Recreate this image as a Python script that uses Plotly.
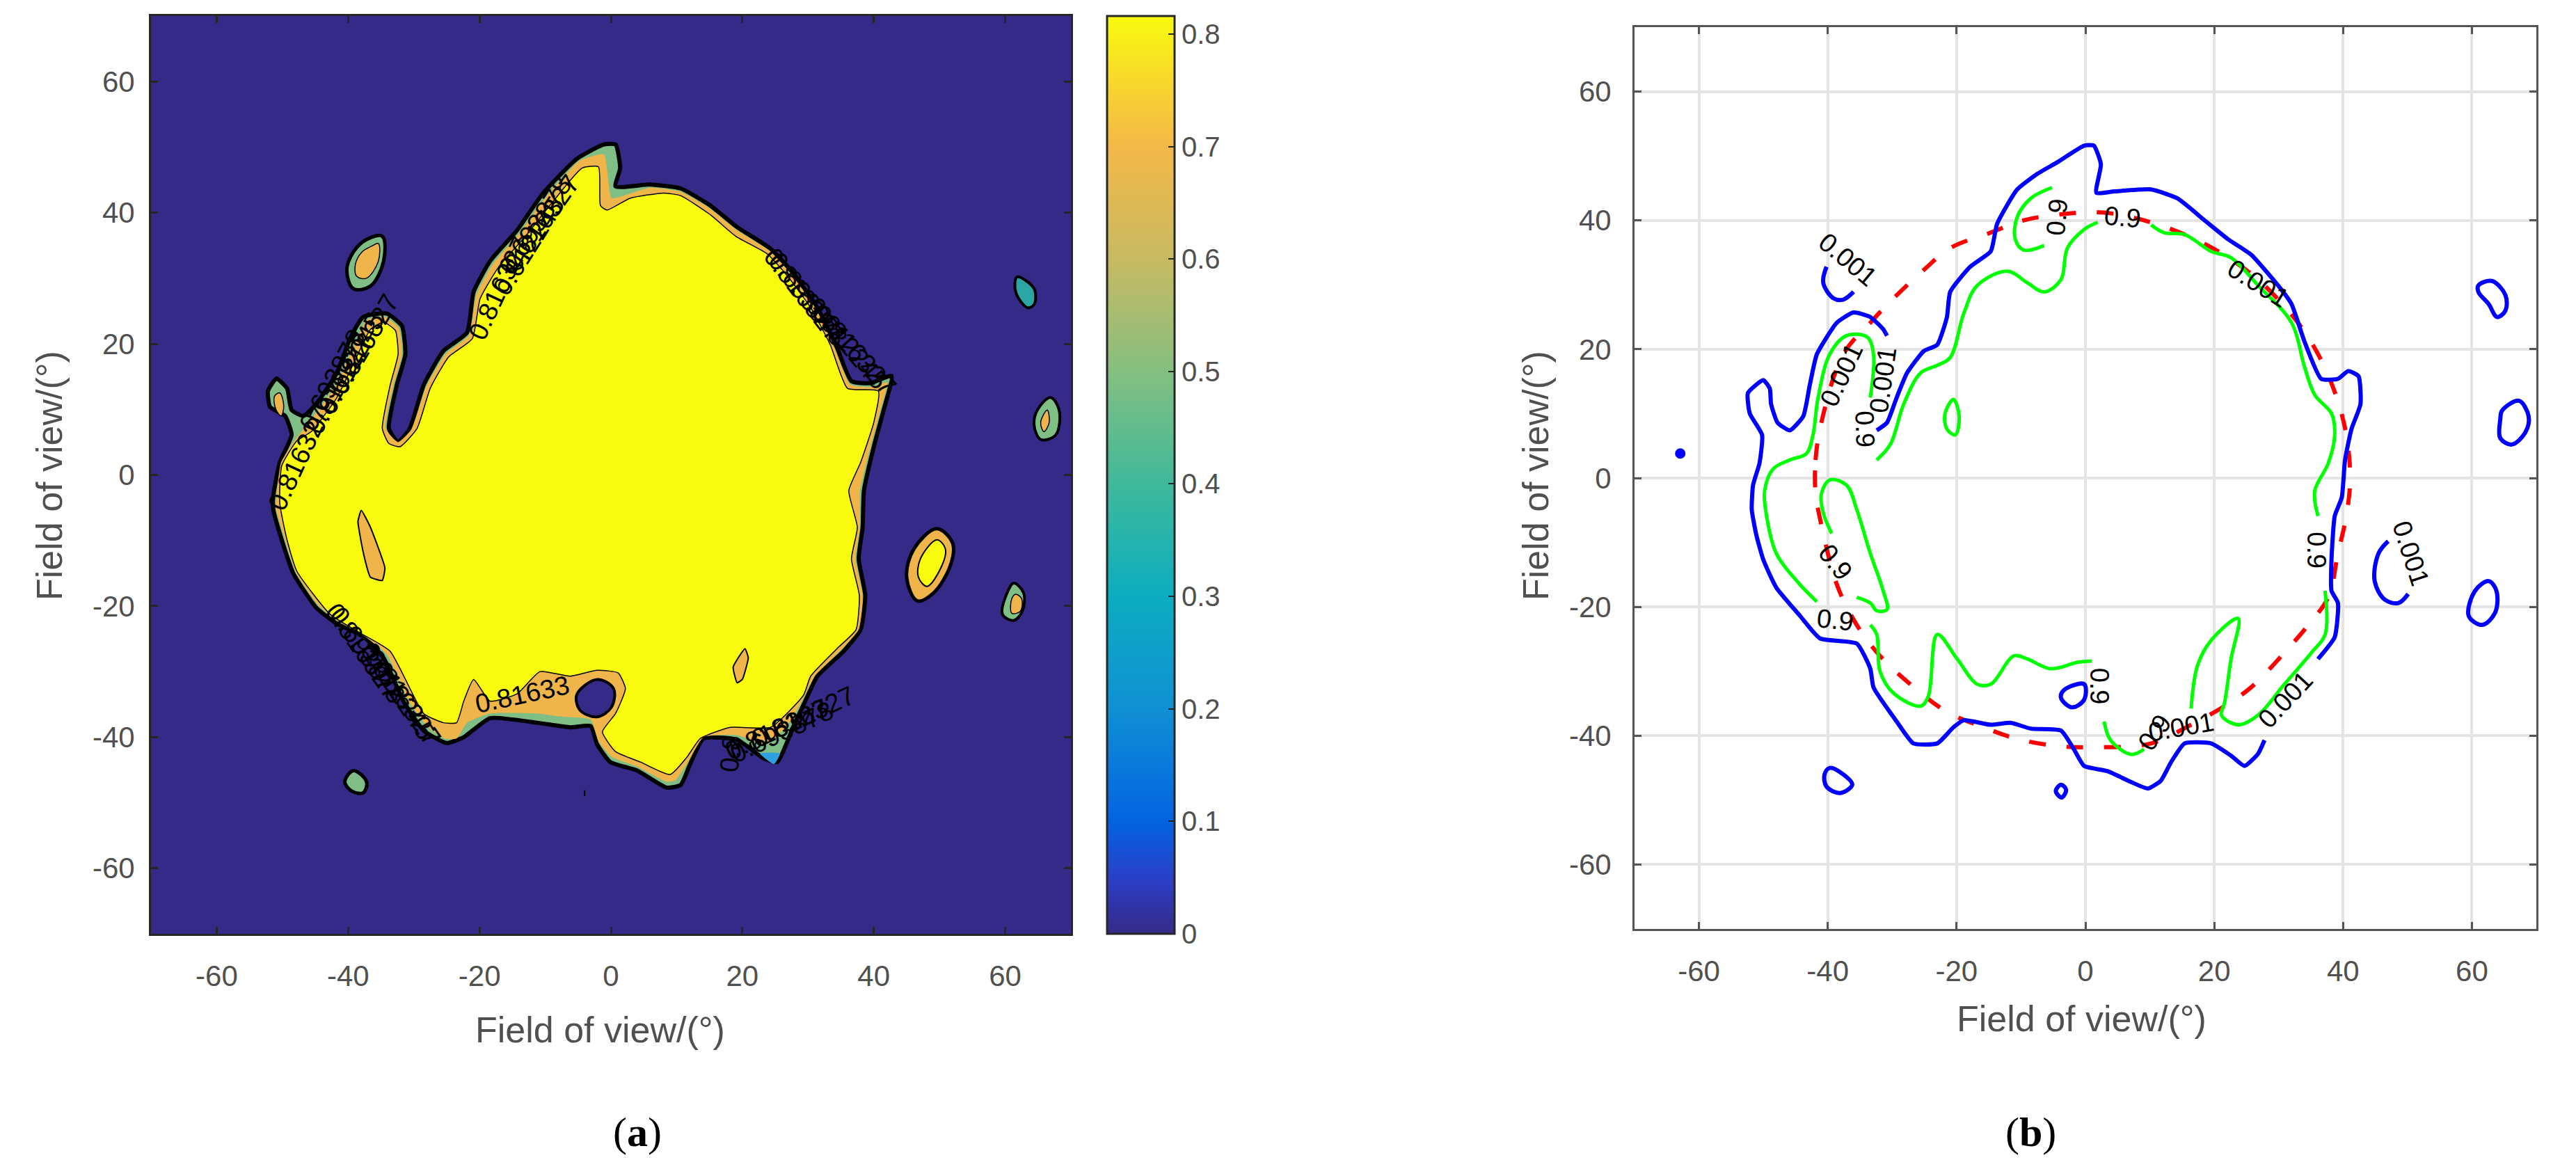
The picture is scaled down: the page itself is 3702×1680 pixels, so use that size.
import plotly.graph_objects as go

W, H = 3702, 1680
FONT = "Liberation Sans"
TICKS = [-60, -40, -20, 0, 20, 40, 60]
TICK_TEXT = ["-60", "-40", "-20", "0", "20", "40", "60"]
CB_TICKS = [0, 0.1, 0.2, 0.3, 0.4, 0.5, 0.6, 0.7, 0.8]
Z_MAX = 0.816

PURPLE, GREEN_F, ORANGE, YELLOW, TEAL = "#352a87", "#7fbf86", "#efb44a", "#f9fb0e", "#2ba6a4"

bg_x = [-70, 70]
bg_y = [-70, 70]
bg_z = [[0, 0], [0, 0]]

outer_x = [-51.4,-50.4,-48.6,-49.6,-51.9,-52.2,-50.9,-49.3,-48.6,-46.8,-44.8,-41.7,-39.7,-37.7,-34.1,-31.8,-31.3,-32.6,-33.8,-32.4,-30.6,-28.5,-25.5,-21.9,-20.9,-18.4,-14.3,-10.3,-5.2,-1.1,0.7,1.4,0.7,6.0,10.6,15.1,19.2,24.3,27.8,31.4,34.4,36.6,39.5,42.7,41.5,40.0,38.5,38.3,37.7,38.7,38.0,35.4,31.4,29.8,27.8,25.3,23.2,19.2,14.1,12.1,10.6,8.5,4.0,-0.1,-2.1,-3.1,-6.2,-11.3,-18.4,-22.4,-25.0,-28.5,-31.6,-34.6,-37.7,-41.7,-44.8,-48.3,-50.1,-51.4,-51.4]
outer_y = [-3.3,1.9,6.1,9.0,10.4,12.8,14.7,13.2,9.9,9.0,10.9,15.6,20.8,24.1,24.6,22.7,18.4,13.7,7.1,5.0,7.1,13.7,18.9,21.7,27.9,32.6,37.3,43.0,48.2,50.4,50.4,46.8,44.0,44.3,43.7,41.1,37.8,34.5,30.7,25.5,19.4,14.3,14.0,15.1,9.9,4.3,-2.4,-8.0,-12.8,-18.4,-23.6,-26.9,-30.7,-34.0,-38.3,-43.8,-43.2,-40.4,-40.2,-44.0,-47.3,-47.7,-45.1,-43.8,-41.1,-38.3,-38.5,-37.8,-37.1,-40.0,-40.9,-39.0,-34.5,-27.9,-24.6,-22.7,-20.3,-15.1,-9.9,-5.2,-3.3]

orange_x = [-51.0,-50.2,-48.3,-46.3,-42.2,-39.2,-37.2,-34.4,-32.3,-31.8,-33.1,-34.3,-32.4,-30.4,-28.1,-25.2,-21.6,-20.5,-18.0,-13.9,-9.8,-4.8,-1.1,-0.3,0.1,6.0,10.6,15.1,19.2,24.1,27.5,31.2,34.0,36.4,39.5,42.0,41.0,39.5,37.9,37.9,37.2,38.3,37.7,35.0,31.0,29.5,27.1,23.8,19.2,14.1,11.9,9.8,8.5,4.0,0.1,-1.9,-3.1,-7.2,-11.3,-18.4,-21.9,-23.5,-25.3,-28.0,-31.1,-34.1,-37.5,-41.7,-44.6,-48.0,-49.6,-51.0]
orange_y = [-4.3,1.9,5.0,7.6,13.2,19.4,23.6,24.1,22.4,18.4,13.7,7.1,5.0,6.9,13.5,18.4,21.3,27.4,32.1,36.9,42.5,47.9,48.9,44.0,42.2,43.8,43.2,40.6,37.3,34.2,30.5,25.3,19.4,13.8,13.4,14.1,9.9,4.3,-2.4,-8.0,-12.8,-18.4,-23.6,-26.7,-30.7,-33.7,-37.8,-41.1,-39.7,-40.0,-43.5,-46.6,-46.8,-44.5,-43.0,-40.6,-37.3,-36.9,-36.4,-36.4,-37.8,-40.2,-40.2,-38.3,-34.0,-27.4,-24.6,-22.2,-19.8,-14.8,-9.9,-5.2]

yellow_x = [-50.4,-50.1,-47.8,-45.6,-41.7,-38.7,-36.6,-34.6,-32.8,-32.4,-33.6,-34.8,-33.8,-32.1,-29.5,-27.5,-24.7,-21.1,-19.9,-17.1,-13.0,-8.9,-4.4,-1.9,-1.6,-0.6,2.9,8.0,10.6,15.1,19.0,23.8,26.8,30.4,33.4,36.0,40.7,40.0,38.0,36.2,37.5,36.6,37.8,37.3,34.4,30.4,29.3,24.3,18.2,13.6,11.6,9.0,4.5,0.7,-1.3,0.7,2.2,1.1,-2.1,-6.2,-10.8,-14.3,-18.4,-20.9,-22.4,-23.5,-25.5,-28.5,-33.6,-38.2,-42.7,-47.8,-49.3,-50.4]
yellow_y = [-4.3,1.4,5.2,6.6,11.8,18.0,22.2,23.3,22.0,18.4,13.7,7.1,4.8,4.3,7.1,13.2,18.0,20.8,26.9,31.7,36.4,41.6,46.8,47.0,41.1,40.4,42.2,43.0,42.6,39.7,36.4,33.7,30.4,25.5,19.8,13.2,12.8,8.0,1.9,-2.4,-8.0,-12.8,-18.4,-23.6,-26.5,-30.7,-33.6,-38.5,-38.5,-40.2,-43.0,-45.7,-43.8,-42.2,-39.2,-36.4,-32.6,-30.2,-29.8,-30.7,-30.0,-33.4,-34.5,-31.2,-34.5,-37.8,-37.8,-36.4,-26.9,-24.1,-21.3,-14.7,-9.9,-4.3]

pond_x = [-5.2,-2.1,0.4,0.1,-2.1,-4.7,-5.2]
pond_y = [-33.5,-31.2,-32.6,-35.4,-36.9,-35.9,-33.5]
tip_x = [22.7,25.7,24.8,22.7]
tip_y = [-42.5,-42.5,-44.1,-42.5]

lens1_x = [-38.0,-36.6,-34.4,-34.8,-36.6,-37.7,-38.5,-38.0]
lens1_y = [-5.4,-8.0,-14.2,-16.1,-15.6,-11.8,-7.1,-5.4]
lens2_x = [20.4,20.9,20.0,19.2,18.6,20.4]
lens2_y = [-26.5,-27.9,-31.2,-31.7,-29.3,-26.5]
finger_x = [-51.2,-50.4,-49.8,-50.2,-51.0,-51.2]
finger_y = [12.0,12.5,10.5,9.0,10.0,12.0]
isl1_x = [-37.2,-34.8,-34.6,-36.6,-39.2,-40.2,-39.2,-37.2]
isl1_y = [35.9,36.4,32.6,28.8,28.4,31.2,34.0,35.9]
isl1o_x = [-36.4,-35.4,-35.4,-37.2,-38.7,-38.9,-37.9,-36.4]
isl1o_y = [34.9,35.3,32.6,30.0,30.3,32.1,34.0,34.9]
isl2_x = [61.8,64.4,64.4,63.4,61.6,61.8]
isl2_y = [30.2,28.4,26.0,25.5,27.9,30.2]
isl3_x = [66.9,68.2,67.7,65.4,64.4,64.9,66.9]
isl3_y = [11.8,9.9,6.1,5.4,7.6,9.9,11.8]
isl3o_x = [66.4,66.7,65.9,65.4,66.4]
isl3o_y = [9.9,8.0,6.6,8.0,9.9]
isl4_x = [49.6,52.0,51.7,49.1,46.6,45.0,46.1,49.6]
isl4_y = [-8.2,-10.4,-13.7,-18.0,-19.2,-15.6,-11.3,-8.2]
isl4y_x = [49.6,50.9,50.2,48.1,46.8,47.1,49.6]
isl4y_y = [-9.9,-11.3,-14.2,-17.0,-15.6,-12.8,-9.9]
isl5_x = [61.3,62.8,62.6,61.3,59.6,60.3,61.3]
isl5_y = [-16.5,-18.0,-20.8,-22.2,-21.3,-18.0,-16.5]
isl5o_x = [61.6,62.5,62.3,61.0,61.0,61.6]
isl5o_y = [-18.2,-18.9,-20.8,-21.1,-18.9,-18.2]
isl6_x = [-39.2,-37.2,-37.7,-39.5,-40.5,-39.2]
isl6_y = [-45.1,-46.8,-48.5,-48.2,-46.8,-45.1]
speck_x = [-4.0,-4.0]
speck_y = [-48.1,-49.0]

left_label_text = ["0.816327","0.816327","0.693878","0.612245","0.816327","0.816327","0.693878","0.816327","0.612245",
                   "0.816327","0.693878","0.816327","0.612245","0.816327","0.693878","0.816327","0.612245",
                   "0.81633","0.816327","0.693878","0.816327","0.8"]
left_label_x = [-17.0,-10.5,-11.5,-12.5,-47.5,-41.5,-42.4,-37.5,-39.5,29.3,30.0,37.0,36.0,-37.7,-37.0,-31.6,-32.5,-13.5,25.3,26.0,29.3,18.2]
left_label_y = [28.5,38.5,38.0,35.0,2.5,14.0,14.5,20.0,17.0,27.4,26.8,19.0,20.0,-26.9,-27.5,-34.0,-33.0,-33.5,-38.8,-39.2,-36.9,-42.5]
left_label_angle = [-65,-55,-57,-58,-65,-62,-62,-60,-62,52,52,48,50,55,55,55,56,-12,-25,-25,-25,-85]

blue1_x = [27.8,26.8,24.7,22.6,19.5,15.4,13.3,11.7,9.7,7.1,3.4,-0.2,-1.8,-3.8,-8.5,-11.6,-14.7,-18.9,-20.5,-23.0,-26.7,-29.3,-32.9,-33.4,-35.5,-41.2,-44.3,-48.0,-50.0,-51.1,-51.8,-51.6,-50.6,-50.2,-52.1,-52.4,-50.0,-49.0,-48.8,-47.8,-45.9,-43.8,-42.8,-41.7,-38.6,-36.0,-33.4,-31.4,-30.8]
blue1_y = [-40.7,-42.8,-44.7,-43.1,-41.2,-41.2,-44.1,-47.0,-48.2,-47.2,-45.5,-44.7,-42.1,-39.2,-38.9,-38.0,-38.3,-37.6,-38.7,-41.2,-41.2,-37.8,-32.5,-29.6,-25.7,-24.9,-21.4,-17.0,-12.7,-8.8,-4.9,-1.1,2.3,6.7,10.0,13.2,15.2,13.9,11.5,8.6,7.4,9.6,14.4,19.2,24.1,25.7,25.0,23.1,22.1]
blue2_x = [-32.4,-30.8,-29.3,-27.7,-25.1,-23.0,-21.5,-21.0,-17.9,-14.7,-13.7,-10.6,-7.5,-4.4,-0.2,1.3,2.4,1.7,4.5,10.2,14.3,18.5,22.1,25.7,29.9,32.0,34.0,36.6,39.2,40.8,42.4,42.7,41.3,40.3,39.8,38.7,38.2,38.2,39.2,38.7,36.1]
blue2_y = [7.4,8.6,12.5,16.3,19.7,20.7,25.0,28.9,32.8,35.2,39.5,44.8,47.2,49.0,51.6,51.6,48.7,44.3,44.5,44.8,43.4,40.0,37.1,34.7,29.9,27.0,21.2,15.4,15.4,16.6,15.8,11.5,7.6,2.8,-3.0,-5.9,-12.7,-17.5,-19.4,-24.7,-28.1]
blue3_x = [-40.2,-40.7,-39.1,-37.6,-36.0]
blue3_y = [32.8,30.3,27.9,27.7,28.9]
blue4_x = [47.0,45.5,44.9,46.5,48.6,50.1]
blue4_y = [-9.8,-11.7,-16.0,-18.9,-19.4,-18.0]
blue5_x = [61.0,63.1,65.2,65.2,63.9,62.6,61.0,61.0]
blue5_y = [29.9,30.6,28.4,26.0,25.0,27.0,28.9,29.9]
blue6_x = [64.7,67.3,68.8,68.3,66.2,64.4,64.4,64.7]
blue6_y = [10.5,12.0,9.6,7.1,5.2,6.2,9.1,10.5]
blue7_x = [62.6,63.8,63.6,61.6,59.5,60.5,62.6]
blue7_y = [-16.0,-17.5,-20.9,-22.8,-21.4,-17.5,-16.0]
blue8_x = [-3.3,-0.2,-0.2,-2.1,-3.8,-3.3]
blue8_y = [-32.9,-32.0,-34.4,-35.6,-34.1,-32.9]
blue9_x = [-39.7,-37.6,-36.2,-38.1,-40.2,-40.5,-39.7]
blue9_y = [-45.0,-46.0,-47.6,-48.9,-47.9,-46.0,-45.0]
blue10_x = [-3.8,-3.0,-3.7,-4.6,-3.8]
blue10_y = [-47.6,-48.4,-49.6,-48.6,-47.6]
blue_dot_x = [-62.9]
blue_dot_y = [3.8]

green1_x = [-41.7,-44.8,-48.0,-49.5,-49.8,-48.5,-45.9,-43.3,-42.3,-41.5,-39.7,-37.1,-33.9,-32.9,-33.4]
green1_y = [-19.2,-16.0,-11.7,-5.9,-2.0,1.4,2.8,3.8,6.7,12.5,19.2,22.1,21.9,19.2,12.5]
green2_x = [-32.4,-30.3,-28.2,-25.6,-23.0,-21.0,-18.9,-16.8,-12.1,-9.0,-6.4,-3.8,-2.8,-0.2,1.9]
green2_y = [2.8,5.2,11.5,16.3,17.5,18.7,25.5,29.9,32.1,30.3,28.9,30.8,35.7,38.6,39.7]
green3_x = [-5.2,-8.5,-10.6,-10.9,-9.6,-6.4]
green3_y = [45.1,43.4,40.5,37.1,35.4,36.1]
green4_x = [10.2,12.2,15.4,19.5,22.6,26.8,32.0,34.0,35.6,38.2,38.7,37.7,35.6,36.1]
green4_y = [39.3,38.1,37.8,35.2,34.2,29.9,24.1,17.3,12.9,10.0,6.7,2.3,-2.0,-5.9]
green5_x = [-20.5,-19.6,-20.2,-21.5,-21.8,-20.5]
green5_y = [12.2,9.6,6.7,7.6,10.0,12.2]
green6_x = [-39.4,-40.7,-41.0,-39.7,-37.1,-35.5,-33.4,-31.4,-30.8,-32.4,-33.4,-35.5]
green6_y = [-8.6,-5.4,-2.5,-0.3,-1.1,-4.9,-11.7,-17.5,-20.4,-20.6,-19.4,-18.5]
green7_x = [-33.4,-32.4,-31.9,-29.8,-25.6,-24.4,-23.0,-19.9,-16.8,-14.7,-11.1,-9.0,-5.4,-1.2,1.0]
green7_y = [-22.8,-24.3,-30.0,-33.4,-35.4,-33.9,-24.3,-28.1,-32.0,-32.0,-27.6,-28.1,-29.6,-28.6,-28.4]
green8_x = [2.9,3.9,7.1,9.1]
green8_y = [-37.8,-40.7,-42.9,-42.1]
green9_x = [16.4,17.4,19.5,23.7,22.6,21.6,21.1,23.7,26.8,30.9,35.1,37.2,37.2]
green9_y = [-35.8,-29.1,-25.2,-21.8,-28.1,-34.9,-36.8,-38.3,-36.8,-32.0,-27.1,-24.3,-17.5]

red_x = [-41.9,-41.9,-41.0,-37.6,-33.4,-30.3,-25.1,-21.0,-14.7,-9.6,-3.3,2.9,9.1,15.4,20.6,26.8,33.0,36.6,39.0,40.5,41.1,40.5,39.2,37.7,34.6,30.9,25.7,21.6,16.4,10.2,1.9,-4.4,-10.6,-15.8,-21.5,-27.2,-31.9,-35.5,-38.6,-41.5,-41.9]
red_y = [-2.5,2.8,8.6,19.2,24.1,27.4,32.3,35.7,38.1,40.0,41.0,41.2,40.0,37.8,35.2,30.8,24.1,18.3,12.5,6.7,-0.1,-5.9,-11.7,-18.5,-22.8,-27.1,-32.5,-35.4,-38.3,-41.2,-41.8,-41.6,-40.5,-38.7,-36.3,-32.0,-27.6,-22.8,-16.5,-4.9,-2.5]

right_label_text = ["0.001","0.001","0.001","0.9","0.9","0.9","0.001","0.9","0.001","0.9","0.9","0.9","0.001","0.001","0.9"]
right_label_x = [-36.9,-37.9,-31.4,-34.2,-4.4,5.8,26.8,35.9,50.5,-38.8,-38.8,2.2,31.1,14.8,10.7]
right_label_y = [33.9,16.0,15.2,7.6,40.5,40.5,30.3,-11.2,-11.7,-13.1,-22.0,-32.3,-34.4,-38.7,-39.5]
right_label_angle = [40,-65,-82,88,-85,5,32,90,72,52,6,90,-47,-10,-55]

parula = [[0,"#352a87"],[0.06,"#2a3fc8"],[0.122,"#0363e1"],[0.245,"#1090d4"],[0.368,"#0cadc0"],
          [0.49,"#3fb99a"],[0.613,"#85bf80"],[0.735,"#c8ba62"],[0.858,"#f4b848"],[0.93,"#f8d82c"],[1,"#f9fb0e"]]

fig = go.Figure()
fig.add_trace(go.Heatmap(x=bg_x, y=bg_y, z=bg_z, zmin=0, zmax=Z_MAX, colorscale=parula, hoverinfo="skip",
    colorbar=dict(x=1591/W, xanchor="left", y=1-23/H, yanchor="top", xpad=0, ypad=0,
                  thickness=97, thicknessmode="pixels", len=1319, lenmode="pixels",
                  tickvals=CB_TICKS, ticktext=[f"{v:g}" for v in CB_TICKS], ticks="inside", ticklen=10, tickwidth=2,
                  tickcolor="#262626", outlinecolor="#262626", outlinewidth=3,
                  tickfont=dict(family=FONT, size=40, color="#505050"))))

def poly(x, y, fill, lw=0, smooth=0.5):
    fig.add_trace(go.Scatter(x=x, y=y, mode="lines", fill="toself", fillcolor=fill,
                             line=dict(color="#000000" if lw else fill, width=lw or 0.1, shape="spline", smoothing=smooth),
                             hoverinfo="skip", showlegend=False))

poly(outer_x, outer_y, GREEN_F, 6)
poly(tip_x, tip_y, "#2f9fe0")
poly(orange_x, orange_y, ORANGE)
poly(yellow_x, yellow_y, YELLOW, 1.5)
poly(pond_x, pond_y, PURPLE, 4, 1)
poly(lens1_x, lens1_y, ORANGE, 2, 0.4)
poly(lens2_x, lens2_y, ORANGE, 2, 0.4)
poly(finger_x, finger_y, ORANGE, 1.5, 1)
poly(isl1_x, isl1_y, GREEN_F, 5, 1)
poly(isl1o_x, isl1o_y, ORANGE, 1.5, 1)
poly(isl2_x, isl2_y, TEAL, 4, 1)
poly(isl3_x, isl3_y, GREEN_F, 4, 1)
poly(isl3o_x, isl3o_y, ORANGE, 1.5, 1)
poly(isl4_x, isl4_y, ORANGE, 5, 1)
poly(isl4y_x, isl4y_y, YELLOW, 2, 1)
poly(isl5_x, isl5_y, GREEN_F, 4, 1)
poly(isl5o_x, isl5o_y, ORANGE, 1.5, 1)
poly(isl6_x, isl6_y, GREEN_F, 5, 1)
fig.add_trace(go.Scatter(x=speck_x, y=speck_y, mode="lines", line=dict(color="#000000", width=2),
                         hoverinfo="skip", showlegend=False))

def line(x, y, color, dash=None, width=6, smooth=1.0):
    fig.add_trace(go.Scatter(x=x, y=y, mode="lines",
                             line=dict(color=color, width=width, dash=dash, shape="spline", smoothing=smooth),
                             hoverinfo="skip", xaxis="x2", yaxis="y2", showlegend=False))

line(red_x, red_y, "#ff0000", dash="24px,30px", width=6)
for gx, gy in [(green1_x,green1_y),(green2_x,green2_y),(green3_x,green3_y),(green4_x,green4_y),(green5_x,green5_y),
               (green6_x,green6_y),(green7_x,green7_y),(green8_x,green8_y),(green9_x,green9_y)]:
    line(gx, gy, "#00ff00", width=5)
line(blue1_x, blue1_y, "#0000ff", smooth=0.5)
line(blue2_x, blue2_y, "#0000ff", smooth=0.5)
for bx, by in [(blue3_x,blue3_y),(blue4_x,blue4_y),(blue5_x,blue5_y),
               (blue6_x,blue6_y),(blue7_x,blue7_y),(blue8_x,blue8_y),(blue9_x,blue9_y),(blue10_x,blue10_y)]:
    line(bx, by, "#0000ff")
fig.add_trace(go.Scatter(x=blue_dot_x, y=blue_dot_y, mode="markers", marker=dict(color="#0000ff", size=15),
                         hoverinfo="skip", xaxis="x2", yaxis="y2", showlegend=False))

anns = []
for t, x, y, a in zip(left_label_text, left_label_x, left_label_y, left_label_angle):
    anns.append(dict(text=t, x=x, y=y, xref="x", yref="y", textangle=a, showarrow=False,
                     font=dict(family=FONT, size=38, color="#000000")))
for t, x, y, a in zip(right_label_text, right_label_x, right_label_y, right_label_angle):
    anns.append(dict(text=t, x=x, y=y, xref="x2", yref="y2", textangle=a, showarrow=False,
                     font=dict(family=FONT, size=38, color="#000000")))
for t, px in [("(<b>a</b>)", 916), ("(<b>b</b>)", 2918)]:
    anns.append(dict(text=t, x=px/W, y=1-1627/H, xref="paper", yref="paper", showarrow=False,
                     xanchor="center", yanchor="middle",
                     font=dict(family="Liberation Serif", size=60, color="#000000")))
TITLE = "Field of view/(°)"
for px, py, ang in [(862, 1480, 0), (2991, 1464, 0), (71, 684, -90), (2207, 684, -90)]:
    anns.append(dict(text=TITLE, x=px/W, y=1-py/H, xref="paper", yref="paper", showarrow=False, textangle=ang,
                     xanchor="center", yanchor="middle",
                     font=dict(family=FONT, size=52, color="#505050")))

def axis(dom, anchor, color, grid, standoff=22):
    return dict(domain=dom, anchor=anchor, range=[-70, 70], tickvals=TICKS, ticktext=TICK_TEXT,
                ticks="inside", ticklen=10, tickwidth=3,
                tickcolor=color, showline=True, linecolor=color, linewidth=3, mirror="all",
                showgrid=grid, gridcolor="#e4e4e4", gridwidth=4, zeroline=False,
                ticklabelstandoff=standoff, tickfont=dict(family=FONT, size=42, color="#505050"))

fig.update_layout(
    width=W, height=H, autosize=False, margin=dict(l=0, r=0, t=0, b=0),
    paper_bgcolor="#ffffff", plot_bgcolor="#ffffff", showlegend=False, annotations=anns,
    xaxis=axis([217/W, 1539/W], "y", "#262626", False),
    yaxis=axis([1-1342/H, 1-23/H], "x", "#262626", False, 12),
    xaxis2=axis([2349/W, 3645/W], "y2", "#555555", True),
    yaxis2=axis([1-1335/H, 1-39/H], "x2", "#555555", True),
)
fig.write_html("out.html", post_script="document.body.style.margin='0';", config={"displayModeBar": False})
